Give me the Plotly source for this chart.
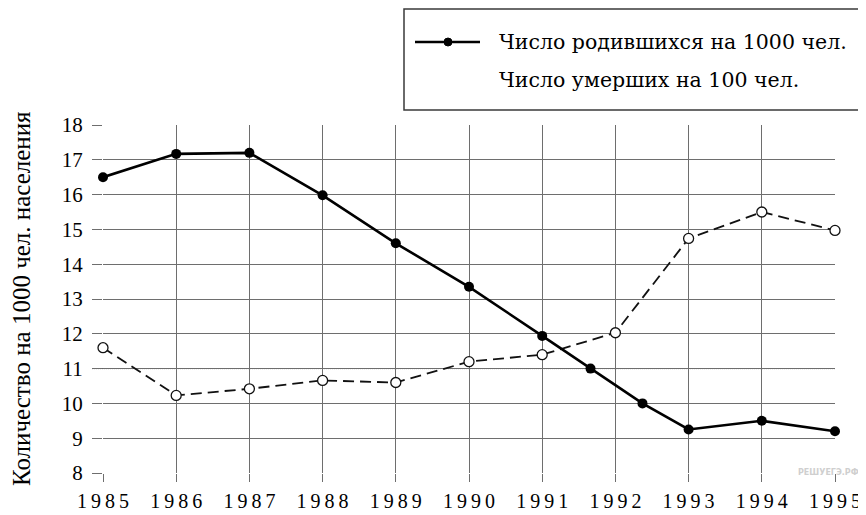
import plotly.graph_objects as go

# ---- data ----
birth_years = [1985, 1986, 1987, 1988, 1989, 1990, 1991, 1991.66, 1992.37, 1993, 1994, 1995]
birth_values = [16.5, 17.17, 17.2, 15.98, 14.6, 13.35, 11.94, 11.0, 10.0, 9.25, 9.5, 9.2]
death_years = [1985, 1986, 1987, 1988, 1989, 1990, 1991, 1992, 1993, 1994, 1995]
death_values = [11.6, 10.23, 10.42, 10.66, 10.6, 11.2, 11.4, 12.03, 14.74, 15.5, 14.97]
x_ticks = [1985, 1986, 1987, 1988, 1989, 1990, 1991, 1992, 1993, 1994, 1995]
y_ticks = [8, 9, 10, 11, 12, 13, 14, 15, 16, 17, 18]
legend_labels = ["Число родившихся на 1000 чел.", "Число умерших на 100 чел."]
y_title = "Количество на 1000 чел. населения"
reference_level = 11

# page body has an 8px margin: the figure is drawn from (8, 8) of the window
OFF = 8
W, H = 866 - OFF, 515 - OFF
L, R, T, B = 103 - OFF, 31, 125 - OFF, 42
PW, PH = W - L - R, H - T - B

def px(x):
    # window pixel x -> paper coordinate
    return (x - OFF - L) / PW

def py(y):
    # window pixel y -> paper coordinate
    return (H - B - (y - OFF)) / PH

SERIF = "Liberation Serif"
LEG_FONT = "DejaVu Serif"
GRID = "#6e6e6e"

fig = go.Figure()

fig.add_trace(go.Scatter(
    x=death_years, y=death_values, mode="lines+markers",
    line=dict(color="#111111", width=1.8, dash="11px,6px"),
    marker=dict(symbol="circle", size=10, color="white",
                line=dict(color="#111111", width=1.3)),
    showlegend=False, cliponaxis=False,
))
fig.add_trace(go.Scatter(
    x=birth_years, y=birth_values, mode="lines+markers",
    line=dict(color="#000000", width=2.6),
    marker=dict(symbol="circle", size=10, color="#000000"),
    showlegend=False, cliponaxis=False,
))

shapes = [
    # cover the solid gridline at the reference level, then draw it dotted
    dict(type="line", xref="paper", yref="y", x0=px(92), x1=1, y0=reference_level, y1=reference_level,
         line=dict(color="white", width=2), layer="below"),
    dict(type="line", xref="paper", yref="y", x0=px(92), x1=1, y0=reference_level, y1=reference_level,
         line=dict(color="#555555", width=1, dash="1px,1px"), layer="below"),
    # legend box
    dict(type="rect", xref="paper", yref="paper", x0=px(404), x1=px(872), y0=py(9), y1=py(110),
         line=dict(color="#3a3a3a", width=1.5), fillcolor="white"),
    dict(type="line", xref="paper", yref="paper", x0=px(415), x1=px(480), y0=py(42), y1=py(42),
         line=dict(color="black", width=2.6)),
    dict(type="circle", xref="paper", yref="paper", x0=px(444), x1=px(452), y0=py(46), y1=py(38),
         fillcolor="black", line=dict(color="black", width=1)),
]

annotations = [
    dict(text=legend_labels[0], xref="paper", yref="paper", x=px(497), y=py(42),
         xanchor="left", yanchor="middle", showarrow=False,
         font=dict(family=LEG_FONT, size=20.5, color="black")),
    dict(text=legend_labels[1], xref="paper", yref="paper", x=px(497), y=py(80),
         xanchor="left", yanchor="middle", showarrow=False,
         font=dict(family=LEG_FONT, size=20.5, color="black")),
    dict(text=y_title, xref="paper", yref="paper", x=px(21), y=py(299),
         xanchor="center", yanchor="middle", textangle=-90, showarrow=False,
         font=dict(family=SERIF, size=25, color="black")),
    dict(text="<b>РЕШУЕГЭ.РФ</b>", xref="paper", yref="paper", x=px(861), y=py(472),
         xanchor="right", yanchor="middle", showarrow=False,
         font=dict(family="DejaVu Sans", size=8, color="#cfcfcf")),
]

fig.update_layout(
    width=W, height=H,
    margin=dict(l=L, r=R, t=T, b=B, pad=0, autoexpand=False),
    paper_bgcolor="white", plot_bgcolor="white",
    shapes=shapes, annotations=annotations,
    showlegend=False,
)
fig.update_xaxes(
    range=[1985, 1995], tickvals=x_ticks,
    ticktext=["\u2009".join(str(v)) for v in x_ticks],
    showgrid=True, gridcolor=GRID, gridwidth=1,
    zeroline=False, showline=False, automargin=False,
    ticks="outside", ticklen=8, tickcolor=GRID, tickwidth=1,
    ticklabelstandoff=2,
    tickfont=dict(family=SERIF, size=20, color="black"),
)
fig.update_yaxes(
    range=[8, 18], tickvals=y_ticks,
    showgrid=True, gridcolor=GRID, gridwidth=1,
    zeroline=False, showline=False, automargin=False,
    ticks="outside", ticklen=10, tickcolor=GRID, tickwidth=1,
    ticklabelstandoff=5,
    tickfont=dict(family=SERIF, size=21, color="black"),
)

fig.write_html("out.html")
